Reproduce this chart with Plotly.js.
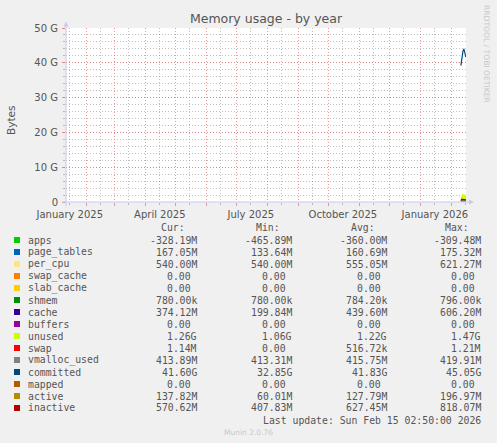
<!DOCTYPE html>
<html>
<head>
<meta charset="utf-8">
<script src="https://cdn.plot.ly/plotly-3.0.1.min.js"></script>
<style>
  body { margin: 0; background: #f0f0f0; }
  #chart { width: 497px; height: 443px; }
</style>
</head>
<body>
<div id="chart"></div>
<script>
// daily samples (values in G)
const days = ["2026-02-10", "2026-02-11", "2026-02-12", "2026-02-13", "2026-02-14", "2026-02-15"];

const apps = [-0.360, -0.466, -0.350, -0.309, -0.340, -0.328];
const pageTables = [0.134, 0.160, 0.170, 0.175, 0.165, 0.167];
const perCpu = [0.540, 0.621, 0.560, 0.540, 0.540, 0.540];
const swapCache = [0, 0, 0, 0, 0, 0];
const slabCache = [0, 0, 0, 0, 0, 0];
const shmem = [0.00078, 0.00080, 0.00078, 0.00078, 0.00078, 0.00078];
const cache = [0.200, 0.606, 0.500, 0.450, 0.420, 0.374];
const buffers = [0, 0, 0, 0, 0, 0];
const unused = [1.06, 1.47, 1.25, 1.20, 1.22, 1.26];
const swap = [0, 0.0002, 0.0005, 0.0008, 0.0012, 0.00114];
const vmallocUsed = [0.4133, 0.4199, 0.416, 0.415, 0.414, 0.4139];
const committed = [39.2, 41.8, 43.2, 44.0, 42.3, 41.6];
const mapped = [0, 0, 0, 0, 0, 0];
const active = [0.060, 0.100, 0.197, 0.150, 0.140, 0.138];
const inactive = [0.408, 0.818, 0.700, 0.600, 0.580, 0.571];

const names = ["apps", "page_tables", "per_cpu", "swap_cache", "slab_cache", "shmem", "cache", "buffers", "unused", "swap", "vmalloc_used", "committed", "mapped", "active", "inactive"];
const colors = ["#00CC00", "#0066B3", "#FFE680", "#FF8000", "#FFCC00", "#008F00", "#330099", "#990099", "#CCFF00", "#FF0000", "#808080", "#00487D", "#B35A00", "#B38F00", "#B30000"];
const curVals = ["-328.19M", "167.05M", "540.00M", "0.00", "0.00", "780.00k", "374.12M", "0.00", "1.26G", "1.14M", "413.89M", "41.60G", "0.00", "137.82M", "570.62M"];
const minVals = ["-465.89M", "133.64M", "540.00M", "0.00", "0.00", "780.00k", "199.84M", "0.00", "1.06G", "0.00", "413.31M", "32.85G", "0.00", "60.01M", "407.83M"];
const avgVals = ["-360.00M", "160.69M", "555.05M", "0.00", "0.00", "784.20k", "439.60M", "0.00", "1.22G", "516.72k", "415.75M", "41.83G", "0.00", "127.79M", "627.45M"];
const maxVals = ["-309.48M", "175.32M", "621.27M", "0.00", "0.00", "796.00k", "606.20M", "0.00", "1.47G", "1.21M", "419.91M", "45.05G", "0.00", "196.97M", "818.07M"];

const yTicks = [0, 10, 20, 30, 40, 50];
const yTickText = ["0", "10 G", "20 G", "30 G", "40 G", "50 G"];
const monthTicks = ["2025-01-15", "2025-02-15", "2025-03-15", "2025-04-15", "2025-05-15", "2025-06-15", "2025-07-15", "2025-08-15", "2025-09-15", "2025-10-15", "2025-11-15", "2025-12-15", "2026-01-15", "2026-02-15"];
const monthText = ["January 2025", "", "", "April 2025", "", "", "July 2025", "", "", "October 2025", "", "", "January 2026", ""];

const series = [apps, pageTables, perCpu, swapCache, slabCache, shmem, cache, buffers, unused, swap, vmallocUsed, committed, mapped, active, inactive];

// plot box in pixels
const L = 66, R = 466, T = 28, B = 202;
const fx = (px) => (px - L) / (R - L);
const fy = (py) => (B - py) / (B - T);

let data = [];
series.forEach((vals, i) => {
    if (i < 10) {
        data.push({
            x: days, y: vals, type: "scatter", mode: "lines",
            stackgroup: "mem", fillcolor: colors[i],
            line: { width: 0, color: colors[i], shape: "hv" },
            name: names[i]
        });
    } else {
        data.push({
            x: days, y: vals, type: "scatter", mode: "lines",
            line: { width: 1.2, color: colors[i] },
            name: names[i]
        });
    }
});

const txt = "#555";
const mono = "DejaVu Sans Mono";
let annotations = [];
let shapes = [];

// y axis title
annotations.push({ xref: "paper", yref: "paper", x: fx(11), y: fy(120), xanchor: "center", yanchor: "middle", text: "Bytes", textangle: -90, showarrow: false, font: { family: "DejaVu Sans", size: 10.5, color: txt } });
// rrdtool watermark
annotations.push({ xref: "paper", yref: "paper", x: fx(487), y: fy(54), xanchor: "center", yanchor: "middle", text: "RRDTOOL / TOBI OETIKER", textangle: 90, showarrow: false, font: { family: "DejaVu Sans", size: 7.6, color: "#c8c8c8" } });

// legend headers
const colEnd = [199, 293.5, 388.5, 483];
const cw = 5.9;
["Cur:", "Min:", "Avg:", "Max:"].forEach((h, j) => {
    annotations.push({ xref: "paper", yref: "paper", x: fx(colEnd[j] - 2 * cw), y: fy(227.5), xanchor: "right", yanchor: "middle", text: h, showarrow: false, font: { family: mono, size: 9.8, color: txt } });
});

names.forEach((n, i) => {
    const yRow = 240 + 12 * i;
    shapes.push({ type: "rect", xref: "paper", yref: "paper", x0: fx(14), x1: fx(20), y0: fy(yRow - 3), y1: fy(yRow + 3), fillcolor: colors[i], line: { width: 0 } });
    annotations.push({ xref: "paper", yref: "paper", x: fx(26), y: fy(yRow), xanchor: "left", yanchor: "middle", text: n, showarrow: false, font: { family: mono, size: 9.8, color: txt } });
    [curVals, minVals, avgVals, maxVals].forEach((col, j) => {
        const v = col[i];
        const hasUnit = /[kMG]$/.test(v);
        annotations.push({ xref: "paper", yref: "paper", x: fx(colEnd[j] - (hasUnit ? 0 : cw)), y: fy(yRow), xanchor: "right", yanchor: "middle", text: v, showarrow: false, font: { family: mono, size: 9.8, color: txt } });
    });
});

annotations.push({ xref: "paper", yref: "paper", x: fx(483), y: fy(420), xanchor: "right", yanchor: "middle", text: "Last update: Sun Feb 15 02:50:00 2026", showarrow: false, font: { family: mono, size: 9.8, color: txt } });
annotations.push({ xref: "paper", yref: "paper", x: fx(248), y: fy(432.5), xanchor: "center", yanchor: "middle", text: "Munin 2.0.76", showarrow: false, font: { family: "DejaVu Sans", size: 7.5, color: "#c8c8c8" } });

// rrdtool style axis lines with arrows
const axisCol = "#c8c8f0";
shapes.push({ type: "line", xref: "paper", yref: "paper", x0: fx(66), x1: fx(66), y0: fy(206), y1: fy(24), line: { color: axisCol, width: 1 } });
shapes.push({ type: "line", xref: "paper", yref: "paper", x0: fx(62), x1: fx(470), y0: fy(202), y1: fy(202), line: { color: axisCol, width: 1 } });
shapes.push({ type: "path", xref: "paper", yref: "paper", path: "M " + fx(63.5) + " " + fy(26.5) + " L " + fx(68.5) + " " + fy(26.5) + " L " + fx(66) + " " + fy(21.5) + " Z", fillcolor: axisCol, line: { width: 0 } });
shapes.push({ type: "path", xref: "paper", yref: "paper", path: "M " + fx(469) + " " + fy(199.5) + " L " + fx(469) + " " + fy(204.5) + " L " + fx(474) + " " + fy(202) + " Z", fillcolor: axisCol, line: { width: 0 } });

const redGrid = "rgba(230,110,110,0.7)";
const greyGrid = "rgba(150,150,150,0.6)";
const dots = "1px,2px";

var layout = {
    width: 497,
    height: 443,
    paper_bgcolor: "#f0f0f0",
    plot_bgcolor: "#ffffff",
    margin: { l: L, r: 497 - R, t: T, b: 443 - B },
    showlegend: false,
    title: { text: "Memory usage - by year", x: 0.5, xref: "paper", y: 1 - 19 / 443, yanchor: "middle", font: { family: "DejaVu Sans", size: 12.5, color: "#555" } },
    xaxis: {
        type: "date",
        range: ["2025-01-11 05:00", "2026-02-15 02:50"],
        tickmode: "array",
        tickvals: monthTicks,
        ticktext: monthText,
        ticks: "outside",
        ticklen: 2,
        tickcolor: greyGrid,
        showgrid: true,
        gridcolor: greyGrid,
        griddash: dots,
        gridwidth: 1,
        zeroline: false,
        showline: false,
        ticklabelstandoff: 1,
        tickfont: { family: "DejaVu Sans", size: 10, color: txt },
        minor: { dtick: "M1", tick0: "2025-01-01", ticks: "outside", ticklen: 3, tickcolor: redGrid, showgrid: true, gridcolor: redGrid, griddash: dots, gridwidth: 1 }
    },
    yaxis: {
        range: [0, 50],
        tickmode: "array",
        tickvals: yTicks,
        ticktext: yTickText,
        ticks: "outside",
        ticklen: 3,
        tickcolor: redGrid,
        ticklabelstandoff: 2,
        showgrid: true,
        gridcolor: redGrid,
        griddash: dots,
        gridwidth: 1,
        zeroline: false,
        showline: false,
        tickfont: { family: "DejaVu Sans", size: 10, color: txt },
        minor: { dtick: 2, tick0: 0, ticks: "outside", ticklen: 2, tickcolor: greyGrid, showgrid: true, gridcolor: greyGrid, griddash: dots, gridwidth: 1 }
    },
    annotations: annotations,
    shapes: shapes
};

Plotly.newPlot("chart", data, layout, { staticPlot: true, displayModeBar: false });
</script>
</body>
</html>
